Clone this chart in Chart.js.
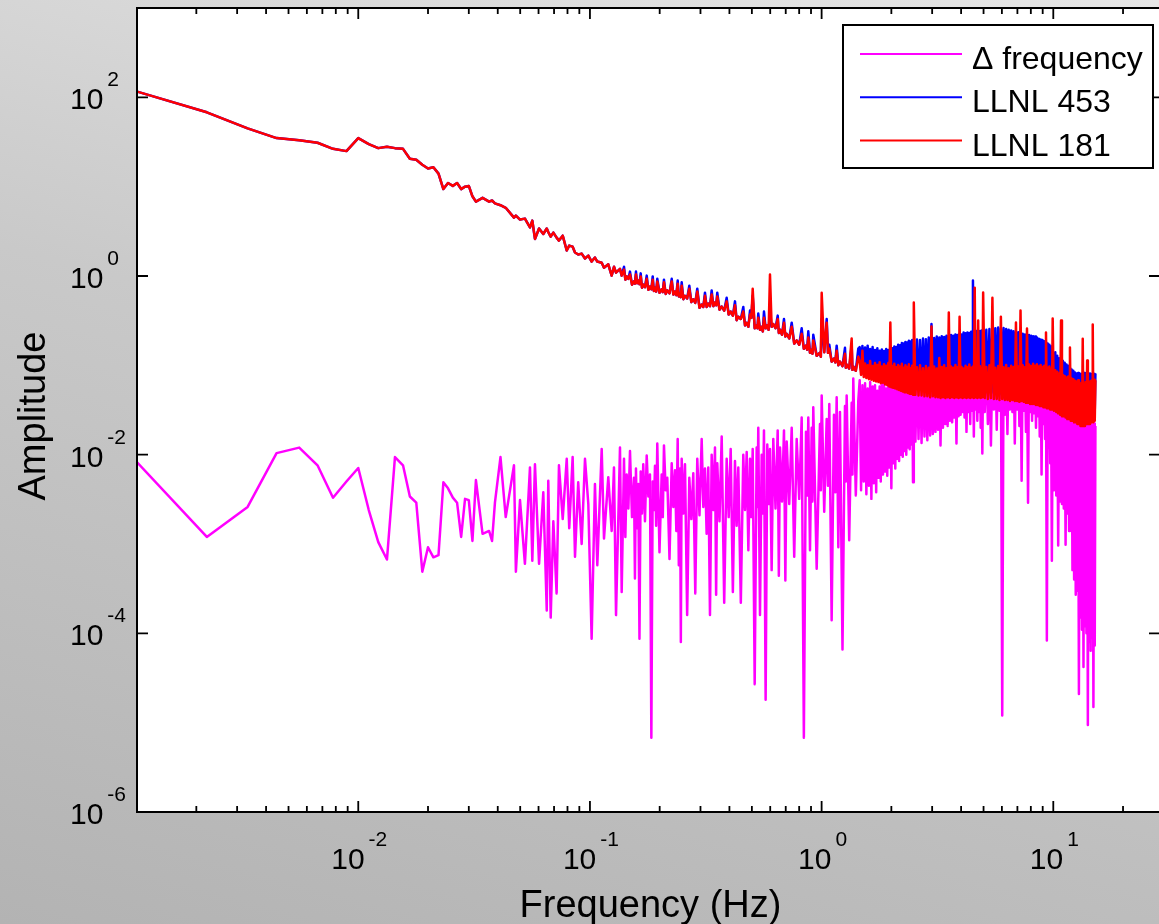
<!DOCTYPE html>
<html>
<head>
<meta charset="utf-8">
<script src="https://cdn.jsdelivr.net/npm/chart.js@4.4.0/dist/chart.umd.min.js"></script>
<style>
  html, body { margin: 0; padding: 0; overflow: hidden; }
  body { width: 1159px; height: 924px; background: linear-gradient(195deg, #e6e6e6 0%, #c9c9c9 45%, #b3b3b3 100%); }
  #wrap { position: absolute; left: 0; top: 0; width: 1170px; height: 924px; }
</style>
</head>
<body>
<div id="wrap"><canvas id="spectrum" width="1170" height="924"></canvas></div>
<script>
// legend / series
const seriesNames = ['\u0394 frequency', 'LLNL 453', 'LLNL 181'];
const seriesColors = ['#ff00ff', '#0000ff', '#ff0000'];

// tick labels (powers of ten)
const xTickExps = ['-2', '-1', '0', '1'];
const yTickExps = ['2', '0', '-2', '-4', '-6'];

// frequency (Hz) - low, mid, high parts (+ extra points read inside the dense bands)
const freqLow = [
  0.00111, 0.00222, 0.00333, 0.00444, 0.00556, 0.00667, 0.00778, 0.00889, 0.0100, 0.0111,
  0.0122, 0.0133, 0.0144, 0.0156, 0.0167, 0.0178, 0.0189, 0.0200, 0.0211, 0.0222,
  0.0233, 0.0244, 0.0256, 0.0267, 0.0278, 0.0289, 0.0300, 0.0311, 0.0322, 0.0344,
  0.0367, 0.0378, 0.0389, 0.0411, 0.0433
];
const freqMid = [
  0.0470, 0.0479, 0.0499, 0.0524, 0.0551, 0.0564, 0.0579, 0.0603, 0.0629, 0.0651,
  0.0661, 0.0677, 0.0695, 0.0718, 0.0735, 0.0763, 0.0794, 0.0814, 0.0842, 0.0862,
  0.0890, 0.0921, 0.0952, 0.0984, 0.1017, 0.1051, 0.1076, 0.1124, 0.1150, 0.1200,
  0.1241, 0.1270, 0.1296, 0.1348, 0.1371, 0.1403, 0.1441, 0.1489, 0.1549, 0.1580,
  0.1617, 0.1656, 0.1699, 0.1758, 0.1816, 0.1866, 0.1909, 0.1953, 0.2040, 0.2087,
  0.2157, 0.2254, 0.2328, 0.2392, 0.2447, 0.2489, 0.2572, 0.2685, 0.2793, 0.2906,
  0.3036, 0.3137, 0.3242, 0.3353, 0.3465, 0.3545, 0.3704, 0.3892, 0.4051, 0.4227,
  0.4369, 0.4591, 0.4749, 0.4908, 0.5041, 0.5244, 0.5329, 0.5512, 0.5639, 0.5828,
  0.5986, 0.6186, 0.6463, 0.6612, 0.6880, 0.7068, 0.7428, 0.7805, 0.8203, 0.8562,
  0.8760, 0.9060, 0.9204, 0.9838, 1.0007, 1.0517, 1.0793, 1.1306, 1.1614, 1.2000,
  1.2613, 1.2827, 1.3481, 1.3698, 1.4398
];
const freqMidFill = [
  0.1422, 0.1465, 0.1519, 0.1564, 0.1598, 0.1636, 0.1677, 0.1728, 0.1787, 0.1841,
  0.1887, 0.1931, 0.1996, 0.2063, 0.2122, 0.2205, 0.2291, 0.2360, 0.2419, 0.2468,
  0.2530, 0.2628, 0.2739, 0.2849, 0.2971, 0.3086, 0.3189, 0.3297, 0.3409, 0.3505,
  0.3624, 0.3798, 0.3971, 0.4139, 0.4298, 0.4480, 0.4670, 0.4828, 0.4974, 0.5142,
  0.5286, 0.5420, 0.5575, 0.5733, 0.5907, 0.6086, 0.6324, 0.6537, 0.6746, 0.6974,
  0.7248, 0.7616, 0.8004, 0.8382, 0.8661, 0.8910, 0.9132, 0.9521, 0.9922, 1.0262,
  1.0655, 1.1049, 1.1460, 1.1807, 1.2306, 1.2720, 1.3154, 1.3590, 1.4048
];
const freqHigh = [
  1.46, 1.50, 1.54, 1.58, 1.62, 1.66, 1.70, 1.74, 1.78, 1.82,
  1.86, 1.90, 1.94, 1.98, 2.02, 2.06, 2.10, 2.14, 2.18, 2.22,
  2.26, 2.30, 2.34, 2.38, 2.42, 2.46, 2.50,
  2.58, 2.66, 2.74, 2.82, 2.90, 2.98, 3.06, 3.14, 3.22, 3.30,
  3.38, 3.46, 3.54, 3.62, 3.70, 3.78, 3.86, 3.94, 4.02, 4.10,
  4.18, 4.26, 4.34, 4.42, 4.50, 4.58, 4.66, 4.74, 4.82, 4.90, 4.98,
  5.14, 5.30, 5.46, 5.62, 5.78, 5.94, 6.10, 6.26, 6.42, 6.58,
  6.74, 6.90, 7.06, 7.22, 7.38, 7.54, 7.70, 7.86, 8.02, 8.18,
  8.34, 8.50, 8.66, 8.82, 8.98, 9.14, 9.30, 9.46, 9.62, 9.78, 9.94,
  10.2, 10.4, 10.6, 10.8, 11.0, 11.2, 11.4, 11.6, 11.8, 12.0,
  12.2, 12.4, 12.6, 12.8, 13.0, 13.2, 13.4, 13.6, 13.8, 14.0,
  14.2, 14.4, 14.6, 14.8, 15.0, 15.2
];
const freqHighFill = [
  1.48, 1.52, 1.56, 1.60, 1.64, 1.68, 1.72, 1.76, 1.80, 1.84,
  1.88, 1.92, 1.96, 2.00, 2.04, 2.08, 2.12, 2.16, 2.20, 2.24,
  2.28, 2.32, 2.36, 2.40, 2.44, 2.48,
  2.54, 2.62, 2.70, 2.78, 2.86, 2.94, 3.02, 3.10, 3.18, 3.26,
  3.34, 3.42, 3.50, 3.58, 3.66, 3.74, 3.82, 3.90, 3.98, 4.06,
  4.14, 4.22, 4.30, 4.38, 4.46, 4.54, 4.62, 4.70, 4.78, 4.86, 4.94,
  5.06, 5.22, 5.38, 5.54, 5.70, 5.86, 6.02, 6.18, 6.34, 6.50,
  6.66, 6.82, 6.98, 7.14, 7.30, 7.46, 7.62, 7.78, 7.94, 8.10,
  8.26, 8.42, 8.58, 8.74, 8.90, 9.06, 9.22, 9.38, 9.54, 9.70, 9.86,
  10.07, 10.3, 10.5, 10.7, 10.9, 11.1, 11.3, 11.5, 11.7, 11.9,
  12.1, 12.3, 12.5, 12.7, 12.9, 13.1, 13.3, 13.5, 13.7, 13.9,
  14.1, 14.3, 14.5, 14.7, 14.9, 15.1
];

// Δ frequency
const deltaLow = [
  8.2e-3, 1.2e-3, 2.6e-3, 1.04e-2, 1.2e-2, 7.6e-3, 3.3e-3, 5.0e-3, 7.1e-3, 2.4e-3,
  1.05e-3, 6.7e-4, 9.4e-3, 7.6e-3, 3.4e-3, 2.9e-3, 4.9e-4, 9.2e-4, 7.1e-4, 7.5e-4,
  4.9e-3, 4.2e-3, 3.3e-3, 2.9e-3, 1.2e-3, 3.2e-3, 3.1e-3, 1.08e-3, 5.2e-3, 1.3e-3,
  1.4e-3, 1.08e-3, 2.9e-3, 9.4e-3, 2.0e-3
];
const deltaMid = [
  7.6e-3, 4.9e-4, 3.1e-3, 6.0e-4, 7.2e-3, 6.5e-4, 7.8e-3, 6.0e-4, 3.8e-3, 1.8e-4,
  5.1e-3, 1.5e-4, 1.8e-3, 2.8e-4, 7.6e-3, 1.9e-3, 9.0e-3, 1.5e-3, 9.4e-3, 7.2e-4,
  4.9e-3, 1.0e-3, 9.0e-3, 2.8e-3, 8.7e-5, 4.7e-3, 5.8e-4, 1.16e-2, 1.15e-3, 5.6e-3,
  1.4e-3, 7.2e-3, 1.6e-4, 1.2e-2, 2.9e-4, 9.0e-3, 6.0e-3, 1.1e-2, 5.5e-3, 7.0e-3,
  4.7e-3, 6.5e-3, 7.8e-3, 9.8e-3, 6.0e-3, 5.0e-3, 7.5e-3, 1.33e-2, 6.0e-3, 1.27e-2,
  5.5e-3, 8.0e-3, 6.7e-3, 1.5e-2, 7.0e-3, 9.0e-3, 7.8e-3, 5.5e-3, 6.2e-3, 9.0e-3,
  1.5e-2, 7.0e-3, 7.2e-3, 1.0e-2, 1.2e-2, 8.0e-3, 1.6e-2, 9.0e-3, 1.16e-2, 8.5e-3,
  7.2e-3, 1.0e-2, 1.07e-2, 9.0e-3, 1.16e-2, 1.2e-2, 2.0e-2, 1.0e-2, 1.87e-2, 1.3e-2,
  1.16e-2, 1.5e-2, 1.87e-2, 1.2e-2, 1.87e-2, 1.4e-2, 2.0e-2, 1.5e-2, 2.6e-2, 1.8e-2,
  2.6e-2, 2.0e-2, 3.4e-2, 2.2e-2, 4.6e-2, 2.5e-2, 3.7e-2, 2.8e-2, 4.4e-2, 3.0e-2,
  3.5e-2, 4.6e-2, 3.8e-2, 7.1e-2, 4.0e-2
];
const deltaMidFill = [
  1.2e-3, 2.5e-3, 2.0e-3, 4.1e-4, 1.5e-3, 8.7e-5, 2.2e-3, 1.8e-3, 3.4e-3, 6.8e-6,
  2.4e-3, 1.6e-3, 8.1e-4, 2.0e-3, 4.0e-3, 6.8e-4, 2.6e-3, 1.4e-3, 5.8e-4, 8.0e-5,
  2.2e-3, 1.6e-4, 1.9e-3, 2.8e-4, 2.1e-3, 2.6e-3, 1.3e-3, 1.6e-4, 2.4e-3, 2.7e-4,
  1.8e-3, 2.2e-4, 2.0e-3, 2.9e-4, 1.6e-3, 2.2e-4, 2.4e-3, 8.5e-4, 2.0e-3, 2.7e-5,
  2.6e-3, 1.6e-4, 2.2e-3, 1.8e-5, 2.8e-3, 5.1e-4, 2.5e-3, 4.4e-4, 3.0e-3, 3.9e-4,
  2.8e-3, 7.2e-4, 3.2e-3, 6.8e-6, 3.5e-3, 8.5e-4, 3.0e-3, 5.3e-4, 4.0e-3, 2.3e-3,
  4.5e-3, 1.4e-4, 3.8e-3, 9.2e-4, 6.6e-5, 5.0e-3, 1.1e-3, 6.0e-3, 3.5e-3
];
const deltaHigh = [
  0.068, 0.060, 0.063, 0.055, 0.065, 0.058, 0.060, 0.052, 0.058, 0.062,
  0.064, 0.055, 0.068, 0.060, 0.071, 0.062, 0.079, 0.068, 0.083, 0.072,
  0.092, 0.080, 0.097, 0.085, 0.101, 0.088, 0.104,
  0.090, 0.107, 0.095, 0.110, 0.092, 0.098, 0.113, 0.096, 0.115, 0.100,
  0.119, 0.102, 0.121, 0.105, 0.121, 0.100, 0.125, 0.108, 0.129, 0.110,
  0.129, 0.112, 0.131, 0.115, 0.134, 0.118, 0.139, 0.120, 0.142, 0.125, 0.118,
  0.142, 0.120, 0.125, 0.139, 0.118, 0.130, 0.134, 0.115, 0.134, 0.118,
  0.134, 0.112, 0.131, 0.110, 0.129, 0.108, 0.105, 0.119, 0.100, 0.110,
  0.095, 0.104, 0.090, 0.097, 0.085, 0.083, 0.075, 0.060, 0.047, 0.040, 0.038,
  0.042, 0.036, 0.0404, 0.034, 0.0374, 0.033, 0.030, 0.0335, 0.029, 0.0312,
  0.027, 0.0289, 0.026, 0.025, 0.0261, 0.024, 0.023, 0.0241, 0.022, 0.021,
  0.0235, 0.022, 0.0229, 0.021, 0.0223, 0.021
];
const deltaHighFill = [
  0.0040, 0.0050, 0.0036, 0.0045, 0.0032, 0.0048, 0.0038, 0.0055, 0.0050, 0.0060,
  0.0065, 0.0058, 0.0072, 0.0042, 0.0080, 0.0070, 0.0090, 0.0085, 0.0100, 0.0095,
  0.0110, 0.0100, 0.0120, 0.0115, 0.0130, 0.0049,
  0.0140, 0.0150, 0.0135, 0.0160, 0.0145, 0.0164, 0.0170, 0.0180, 0.0190, 0.0127,
  0.0200, 0.0220, 0.0210, 0.0240, 0.0230, 0.0260, 0.0133, 0.0270, 0.0280, 0.0300,
  0.026, 0.018, 0.030, 0.022, 0.031, 0.016, 0.032, 0.024, 0.030, 0.020, 0.0103,
  0.030, 0.022, 0.0127, 0.032, 0.019, 0.031, 1.2e-5, 0.028, 0.017, 0.032,
  0.030, 0.0133, 0.032, 0.021, 0.0051, 0.031, 0.018, 0.0029, 0.030, 0.024,
  0.029, 0.020, 0.027, 0.016, 0.0060, 0.022, 0.015, 8.3e-5, 0.0120, 0.0080, 6.5e-4,
  0.0040, 0.0035, 9.6e-4, 0.0030, 0.0028, 0.0025, 9.8e-4, 0.0022, 0.0014, 0.0015,
  5.1e-4, 4.0e-4, 2.7e-4, 3.0e-4, 2.1e-5, 1.5e-4, 1.1e-4, 4.2e-5, 1.2e-4, 1.0e-4,
  9.4e-6, 8.0e-5, 6.4e-5, 9.0e-5, 1.5e-5, 7.3e-5
];

// LLNL 453
const llnl453Low = [
  116, 68, 45, 35, 33, 31, 26.5, 25, 35, 30,
  27, 28, 27, 26.5, 20.5, 20, 17.6, 16, 16.5, 14,
  9.4, 11, 10.2, 11, 9.4, 10, 10.2, 7.8, 6.8, 7.5,
  6.8, 7.0, 6.5, 6.2, 5.8
];
const llnl453Mid = [
  4.5, 4.74, 4.28, 4.39, 3.5, 4.17, 2.6, 3.4, 2.95, 3.4,
  3.1, 2.76, 3.06, 2.69, 2.49, 2.83, 1.93, 2.19, 2.13, 1.83,
  1.74, 1.78, 1.57, 1.69, 1.45, 1.61, 1.45, 1.41, 1.24, 1.35,
  1.01, 1.27, 1.09, 1.2, 1.01, 1.27, 0.99, 1.12, 0.87, 1.12,
  0.89, 1.07, 0.8, 1.01, 0.76, 0.99, 0.74, 0.93, 0.71, 0.91,
  0.69, 0.93, 0.67, 0.89, 0.64, 0.85, 0.6, 0.78, 0.55, 0.72,
  0.48, 0.65, 0.49, 0.69, 0.505, 0.65, 0.455, 0.57, 0.4, 0.52,
  0.35, 0.45, 0.3, 0.41, 0.6, 0.28, 0.38, 0.27, 0.4, 0.28,
  0.41, 0.29, 0.36, 0.25, 0.33, 0.225, 0.3, 0.19, 0.26, 0.166,
  0.24, 0.15, 0.22, 0.139, 0.33, 0.33, 0.17, 0.119, 0.166, 0.11,
  0.157, 0.102, 0.166, 0.097, 0.154
];
const llnl453MidFill = [
  0.91, 0.93, 0.80, 0.82, 0.83, 0.81, 0.74, 0.75, 0.70, 0.71,
  0.68, 0.67, 0.65, 0.66, 0.63, 0.64, 0.62, 0.61, 0.59, 0.58,
  0.55, 0.56, 0.51, 0.50, 0.44, 0.45, 0.45, 0.46, 0.46, 0.47,
  0.42, 0.41, 0.37, 0.36, 0.32, 0.33, 0.28, 0.27, 0.34, 0.26,
  0.26, 0.25, 0.24, 0.26, 0.25, 0.27, 0.26, 0.23, 0.22, 0.21,
  0.20, 0.175, 0.17, 0.153, 0.15, 0.138, 0.135, 0.128, 0.125, 0.14,
  0.138, 0.11, 0.108, 0.10, 0.098, 0.094, 0.092, 0.089, 0.087
];
const llnl453High = [
  0.160, 0.165, 0.158, 0.166, 0.152, 0.160, 0.148, 0.155, 0.146, 0.150,
  0.145, 0.152, 0.148, 0.158, 0.155, 0.162, 0.160, 0.170, 0.168, 0.178,
  0.175, 0.183, 0.180, 0.189, 0.185, 0.192, 0.189,
  0.195, 0.192, 0.200, 0.196, 0.205, 0.290, 0.202, 0.210, 0.205, 0.212,
  0.208, 0.215, 0.212, 0.218, 0.214, 0.222, 0.218, 0.225, 0.222, 0.233,
  0.228, 0.233, 0.230, 0.238, 0.889, 0.236, 0.242, 0.245, 0.240, 0.245, 0.248,
  0.250, 0.255, 0.252, 0.260, 0.265, 0.258, 0.262, 0.255, 0.250, 0.245,
  0.240, 0.233, 0.235, 0.228, 0.225, 0.222, 0.220, 0.218, 0.215, 0.212,
  0.210, 0.205, 0.199, 0.195, 0.192, 0.186, 0.183, 0.176, 0.170, 0.162, 0.154,
  0.140, 0.128, 0.120, 0.117, 0.112, 0.107, 0.102, 0.099, 0.095, 0.090,
  0.087, 0.083, 0.081, 0.082, 0.081, 0.080, 0.081, 0.082, 0.081, 0.080,
  0.081, 0.081, 0.080, 0.079, 0.080, 0.081
];
const llnl453HighFill = [
  0.088, 0.084, 0.082, 0.080, 0.078, 0.077, 0.075, 0.074, 0.072, 0.073,
  0.070, 0.069, 0.067, 0.066, 0.064, 0.063, 0.062, 0.061, 0.060, 0.059,
  0.058, 0.057, 0.056, 0.055, 0.055, 0.054,
  0.054, 0.053, 0.053, 0.052, 0.052, 0.051, 0.052, 0.051, 0.051, 0.050,
  0.051, 0.050, 0.051, 0.050, 0.051, 0.050, 0.051, 0.050, 0.051, 0.050,
  0.051, 0.050, 0.051, 0.050, 0.051, 0.050, 0.051, 0.050, 0.051, 0.050, 0.051,
  0.050, 0.049, 0.050, 0.049, 0.049, 0.048, 0.049, 0.048, 0.048, 0.047,
  0.048, 0.047, 0.047, 0.046, 0.047, 0.046, 0.045, 0.045, 0.044, 0.044,
  0.044, 0.043, 0.043, 0.042, 0.042, 0.041, 0.041, 0.040, 0.040, 0.039, 0.039,
  0.038, 0.037, 0.036, 0.035, 0.034, 0.034, 0.033, 0.032, 0.032, 0.031,
  0.031, 0.030, 0.030, 0.029, 0.029, 0.028, 0.028, 0.028, 0.028, 0.029,
  0.029, 0.029, 0.030, 0.030, 0.030, 0.031
];

// LLNL 181
const llnl181Low = [
  116, 68, 45, 35, 33, 31, 26.5, 25, 35, 30,
  27, 28, 27, 26.5, 20.5, 20, 17.6, 16, 16.5, 14,
  9.4, 11, 10.2, 11, 9.4, 10, 10.2, 7.8, 6.8, 7.5,
  6.8, 7.0, 6.5, 6.2, 5.8
];
const llnl181Mid = [
  4.5, 4.74, 4.28, 4.39, 3.5, 4.17, 2.6, 3.4, 2.95, 3.4,
  3.1, 2.76, 3.06, 2.69, 2.49, 2.83, 1.93, 2.19, 2.13, 1.83,
  1.74, 1.78, 1.57, 1.69, 1.45, 1.61, 1.45, 1.41, 1.24, 1.35,
  1.01, 1.27, 1.09, 1.2, 1.01, 1.18, 0.99, 1.04, 0.87, 1.04,
  0.89, 0.99, 0.8, 0.93, 0.76, 0.91, 0.74, 0.87, 0.71, 0.85,
  0.69, 0.87, 0.67, 0.82, 0.64, 0.78, 0.6, 0.72, 0.55, 0.67,
  0.48, 0.6, 0.49, 0.62, 0.505, 0.59, 0.455, 0.52, 0.4, 0.47,
  0.35, 0.4, 0.3, 0.37, 0.72, 0.28, 0.34, 0.27, 0.34, 0.28,
  1.04, 0.29, 0.33, 0.25, 0.3, 0.225, 0.27, 0.19, 0.225, 0.166,
  0.205, 0.15, 0.19, 0.139, 0.65, 0.30, 0.154, 0.119, 0.146, 0.11,
  0.135, 0.102, 0.2, 0.097, 0.125
];
const llnl181MidFill = [
  0.91, 0.93, 0.80, 0.82, 0.83, 0.81, 0.74, 0.75, 0.70, 0.71,
  0.68, 0.67, 0.65, 0.66, 0.63, 0.64, 0.62, 0.61, 0.59, 0.58,
  0.55, 0.56, 0.51, 0.50, 0.44, 0.45, 0.45, 0.46, 0.46, 0.47,
  0.42, 0.41, 0.37, 0.36, 0.32, 0.33, 0.28, 0.27, 0.34, 0.26,
  0.26, 0.25, 0.24, 0.26, 0.25, 0.27, 0.26, 0.23, 0.22, 0.21,
  0.20, 0.175, 0.17, 0.153, 0.15, 0.138, 0.135, 0.128, 0.125, 0.14,
  0.138, 0.11, 0.108, 0.10, 0.098, 0.094, 0.092, 0.089, 0.087
];
const llnl181High = [
  0.109, 0.146, 0.105, 0.100, 0.112, 0.098, 0.106, 0.101, 0.108, 0.097,
  0.103, 0.099, 0.106, 0.301, 0.098, 0.104, 0.095, 0.101, 0.097, 0.104,
  0.094, 0.100, 0.096, 0.103, 0.093, 0.099, 0.505,
  0.095, 0.100, 0.093, 0.098, 0.094, 0.272, 0.097, 0.092, 0.121, 0.096,
  0.100, 0.093, 0.390, 0.097, 0.094, 0.101, 0.095, 0.350, 0.096, 0.092,
  0.099, 0.095, 0.102, 0.094, 0.097, 0.741, 0.093, 0.317, 0.098, 0.094, 0.653,
  0.096, 0.100, 0.570, 0.094, 0.098, 0.350, 0.095, 0.101, 0.093, 0.099,
  0.096, 0.301, 0.097, 0.410, 0.100, 0.095, 0.258, 0.102, 0.098, 0.104,
  0.099, 0.103, 0.097, 0.101, 0.096, 0.099, 0.233, 0.094, 0.097, 0.092, 0.334,
  0.088, 0.085, 0.081, 0.317, 0.078, 0.076, 0.073, 0.075, 0.158, 0.071,
  0.070, 0.067, 0.066, 0.068, 0.064, 0.063, 0.199, 0.062, 0.065, 0.113,
  0.064, 0.066, 0.067, 0.286, 0.069, 0.068
];
const llnl181HighFill = [
  0.078, 0.074, 0.072, 0.070, 0.069, 0.067, 0.066, 0.065, 0.063, 0.064,
  0.061, 0.060, 0.058, 0.057, 0.056, 0.055, 0.054, 0.053, 0.052, 0.051,
  0.050, 0.050, 0.049, 0.048, 0.048, 0.047,
  0.047, 0.046, 0.046, 0.045, 0.045, 0.044, 0.045, 0.044, 0.044, 0.043,
  0.044, 0.043, 0.044, 0.043, 0.044, 0.043, 0.044, 0.043, 0.044, 0.043,
  0.044, 0.043, 0.044, 0.043, 0.044, 0.043, 0.044, 0.043, 0.044, 0.043, 0.044,
  0.043, 0.042, 0.043, 0.042, 0.042, 0.041, 0.042, 0.041, 0.041, 0.040,
  0.041, 0.040, 0.040, 0.039, 0.040, 0.039, 0.038, 0.038, 0.037, 0.037,
  0.037, 0.036, 0.036, 0.035, 0.035, 0.034, 0.034, 0.033, 0.033, 0.032, 0.032,
  0.031, 0.030, 0.029, 0.028, 0.027, 0.027, 0.026, 0.025, 0.025, 0.024,
  0.024, 0.023, 0.023, 0.022, 0.022, 0.021, 0.021, 0.021, 0.021, 0.022,
  0.022, 0.022, 0.023, 0.023, 0.023, 0.024
];

const freq = freqLow.concat(freqMid, freqMidFill, freqHigh, freqHighFill);
const deltaAmp = deltaLow.concat(deltaMid, deltaMidFill, deltaHigh, deltaHighFill);
const amp453 = llnl453Low.concat(llnl453Mid, llnl453MidFill, llnl453High, llnl453HighFill);
const amp181 = llnl181Low.concat(llnl181Mid, llnl181MidFill, llnl181High, llnl181HighFill);

// pair up and order by frequency
const pts = (xs, ys) => xs.map((x, i) => ({ x: x, y: ys[i] })).sort((a, b) => a.x - b.x);

const FONT = '"Liberation Sans", Arial, Helvetica, sans-serif';

// draws "10" with a raised exponent
function powerLabel(ctx, exp, left, baseY) {
  ctx.font = '30px ' + FONT;
  ctx.fillText('10', left, baseY);
  const wb = ctx.measureText('10').width;
  ctx.font = '21px ' + FONT;
  ctx.fillText(exp, left + wb + 4, baseY - 23);
}
function powerWidth(ctx, exp) {
  ctx.font = '30px ' + FONT;
  const wb = ctx.measureText('10').width;
  ctx.font = '21px ' + FONT;
  return wb + 4 + ctx.measureText(exp).width;
}

const matlabFrame = {
  id: 'matlabFrame',
  beforeDraw(chart) {
    const { ctx, chartArea: a } = chart;
    ctx.save();
    ctx.fillStyle = '#ffffff';
    ctx.fillRect(a.left, a.top, a.right - a.left, a.bottom - a.top);
    ctx.restore();
  },
  afterDraw(chart) {
    const { ctx, chartArea: a } = chart;
    const sx = chart.scales.x, sy = chart.scales.y;
    ctx.save();
    ctx.strokeStyle = '#000';
    ctx.fillStyle = '#000';

    // ticks (inward, top/bottom and left/right)
    ctx.lineWidth = 1.8;
    ctx.beginPath();
    for (let d = -3; d <= 1; d++) {
      for (let m = 1; m <= 9; m++) {
        const v = m * Math.pow(10, d);
        if (v < sx.min || v > sx.max) continue;
        const px = sx.getPixelForValue(v);
        const len = m === 1 ? 11 : 6;
        ctx.moveTo(px, a.bottom); ctx.lineTo(px, a.bottom - len);
        ctx.moveTo(px, a.top); ctx.lineTo(px, a.top + len);
      }
    }
    yTickExps.forEach(e => {
      const py = sy.getPixelForValue(Math.pow(10, Number(e)));
      ctx.moveTo(a.left, py); ctx.lineTo(a.left + 11, py);
      ctx.moveTo(a.right, py); ctx.lineTo(a.right - 11, py);
    });
    ctx.stroke();

    // box
    ctx.lineWidth = 2;
    ctx.strokeRect(a.left, a.top, a.right - a.left, a.bottom - a.top);

    // tick labels
    ctx.textAlign = 'left';
    ctx.textBaseline = 'alphabetic';
    xTickExps.forEach(e => {
      const px = sx.getPixelForValue(Math.pow(10, Number(e)));
      const w = powerWidth(ctx, e);
      powerLabel(ctx, e, px - w / 2 + 1, a.bottom + 57);
    });
    yTickExps.forEach(e => {
      const py = sy.getPixelForValue(Math.pow(10, Number(e)));
      powerLabel(ctx, e, 70, py + 12);
    });

    // axis titles
    ctx.font = '38px ' + FONT;
    ctx.textAlign = 'center';
    ctx.fillText('Frequency (Hz)', (a.left + a.right) / 2 + 2, 917);
    ctx.save();
    ctx.translate(45, 416);
    ctx.rotate(-Math.PI / 2);
    ctx.fillText('Amplitude', 0, 0);
    ctx.restore();

    // legend
    const lx = 843, ly = 25, lw = 310, lh = 143;
    ctx.fillStyle = '#ffffff';
    ctx.fillRect(lx, ly, lw, lh);
    ctx.lineWidth = 2;
    ctx.strokeStyle = '#000';
    ctx.strokeRect(lx, ly, lw, lh);
    ctx.textAlign = 'left';
    ctx.font = '32px ' + FONT;
    seriesNames.forEach((name, i) => {
      const rowY = ly + 29 + i * 43.3;
      ctx.strokeStyle = seriesColors[i];
      ctx.lineWidth = 2;
      ctx.beginPath();
      ctx.moveTo(lx + 17, rowY);
      ctx.lineTo(lx + 119, rowY);
      ctx.stroke();
      ctx.fillStyle = '#000';
      ctx.fillText(name, lx + 129, rowY + 15);
    });
    ctx.restore();
  }
};

const lineStyle = { borderWidth: 2.5, pointRadius: 0, fill: false, tension: 0, borderJoinStyle: 'round' };

new Chart(document.getElementById('spectrum'), {
  type: 'line',
  data: {
    datasets: [
      Object.assign({ label: seriesNames[2], data: pts(freq, amp181), borderColor: seriesColors[2], order: 0 }, lineStyle),
      Object.assign({ label: seriesNames[1], data: pts(freq, amp453), borderColor: seriesColors[1], order: 1 }, lineStyle),
      Object.assign({ label: seriesNames[0], data: pts(freq, deltaAmp), borderColor: seriesColors[0], order: 2 }, lineStyle)
    ]
  },
  options: {
    responsive: false,
    animation: false,
    devicePixelRatio: 1,
    layout: { padding: { left: 137, top: 8, right: 10, bottom: 112 } },
    scales: {
      x: { type: 'logarithmic', min: 0.001109, max: 28.88, display: false },
      y: { type: 'logarithmic', min: 1e-6, max: 1e3, display: false }
    },
    plugins: { legend: { display: false }, tooltip: { enabled: false } }
  },
  plugins: [matlabFrame]
});
</script>
</body>
</html>
